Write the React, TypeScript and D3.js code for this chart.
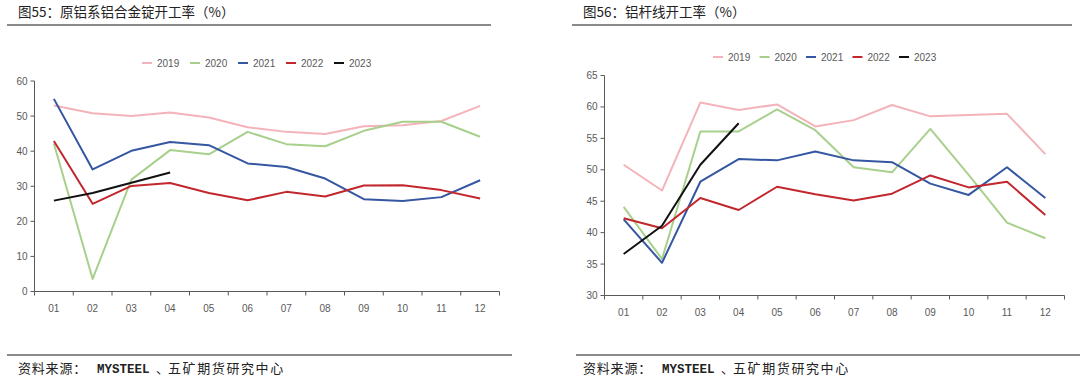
import React from "react";
import * as d3 from "d3";

const months = ["01", "02", "03", "04", "05", "06", "07", "08", "09", "10", "11", "12"];
const years = ["2019", "2020", "2021", "2022", "2023"];
const colors = ["#F4B3BA", "#A8D08D", "#3556A0", "#C1272D", "#111111"];

// 图55 原铝系铝合金锭开工率
const ingot2019 = [53, 50.8, 50, 51, 49.6, 46.8, 45.5, 44.9, 47.1, 47.4, 48.6, 52.9];
const ingot2020 = [42.2, 3.6, 31.9, 40.3, 39.1, 45.5, 42, 41.4, 45.8, 48.4, 48.4, 44.1];
const ingot2021 = [54.9, 34.8, 40.1, 42.6, 41.7, 36.5, 35.5, 32.2, 26.3, 25.8, 26.9, 31.7];
const ingot2022 = [42.9, 25, 30.1, 30.9, 28.1, 26, 28.4, 27.1, 30.2, 30.3, 28.9, 26.5];
const ingot2023 = [25.9, 28.1, 31, 33.9];
const ingotTicks = [0, 10, 20, 30, 40, 50, 60];

// 图56 铝杆线开工率
const rod2019 = [50.8, 46.7, 60.7, 59.5, 60.4, 56.9, 57.9, 60.3, 58.5, 58.7, 58.9, 52.5];
const rod2020 = [44.1, 35.8, 56.1, 56.1, 59.6, 56.3, 50.4, 49.6, 56.5, 49.2, 41.6, 39.1];
const rod2021 = [42.1, 35.2, 48.1, 51.7, 51.5, 52.9, 51.5, 51.2, 47.8, 46, 50.4, 45.5];
const rod2022 = [42.3, 40.7, 45.5, 43.6, 47.3, 46.1, 45.1, 46.2, 49.1, 47.2, 48.1, 42.8];
const rod2023 = [36.6, 41.1, 50.8, 57.4];
const rodTicks = [30, 35, 40, 45, 50, 55, 60, 65];

const sourceParts = ["资料来源：", "MYSTEEL", "、", "五矿期货研究中心"];

const axisColor = "#595959";
const textFont = "Arial, 'Liberation Sans', 'Noto Sans CJK SC', sans-serif";
const cjkFont = "'Noto Sans CJK SC', sans-serif";

type ChartProps = {
  title: string;
  series: number[][];
  ticks: number[];
  x0: number;
  x1: number;
  yTop: number;
  yBottom: number;
  legendX: number;
  legendY: number;
  legendStep: number;
  titleX: number;
  titleLine: [number, number];
  footLine: [number, number];
};

function Chart(p: ChartProps) {
  const x = d3.scaleBand<string>().domain(months).range([p.x0, p.x1]);
  const y = d3
    .scaleLinear()
    .domain([p.ticks[0], p.ticks[p.ticks.length - 1]])
    .range([p.yBottom, p.yTop]);
  const line = d3
    .line<number>()
    .x((_, i) => (x(months[i]) as number) + x.bandwidth() / 2)
    .y((v) => y(v));
  const tickXs = [...months.map((m) => x(m) as number), p.x1];
  const srcOffsets = [0, 79, 138, 150];
  return (
    <g>
      <text x={p.titleX} y={17} fontSize={13.5} fill="#222" fontFamily={cjkFont}>
        {p.title}
      </text>
      <line x1={p.titleLine[0]} x2={p.titleLine[1]} y1={25} y2={25} stroke="#8a8a8a" strokeWidth={2} />
      <line x1={p.footLine[0]} x2={p.footLine[1]} y1={355} y2={355} stroke="#8a8a8a" strokeWidth={2} />
      <text y={373} fill="#222">
        {sourceParts.map((s, i) => (
          <tspan
            key={i}
            x={p.titleX + srcOffsets[i]}
            fontSize={i === 1 ? 12.5 : 13}
            fontFamily={i === 1 ? "'Liberation Mono', 'DejaVu Sans Mono', monospace" : cjkFont}
            letterSpacing={i === 3 ? 1.6 : i === 0 ? 0.8 : 0}
            fontWeight={i === 1 ? 600 : 400}
          >
            {s}
          </tspan>
        ))}
      </text>
      {/* legend */}
      {years.map((yr, i) => (
        <g key={yr} transform={`translate(${p.legendX + i * p.legendStep},${p.legendY})`}>
          <line x1={0} x2={10} y1={0} y2={0} stroke={colors[i]} strokeWidth={2} />
          <text x={15} y={3.5} fontSize={10} fill={axisColor} fontFamily={textFont}>
            {yr}
          </text>
        </g>
      ))}
      {/* y axis */}
      <line x1={p.x0} x2={p.x0} y1={p.yTop} y2={p.yBottom} stroke={axisColor} strokeWidth={1} />
      {p.ticks.map((t) => (
        <g key={t}>
          <line x1={p.x0 - 4} x2={p.x0} y1={y(t)} y2={y(t)} stroke={axisColor} />
          <text x={p.x0 - 7} y={y(t) + 3.5} fontSize={10} fill={axisColor} textAnchor="end" fontFamily={textFont}>
            {t}
          </text>
        </g>
      ))}
      {/* x axis */}
      <line x1={p.x0} x2={p.x1} y1={p.yBottom} y2={p.yBottom} stroke={axisColor} strokeWidth={1} />
      {tickXs.map((tx, i) => (
        <line key={i} x1={tx} x2={tx} y1={p.yBottom} y2={p.yBottom + 4} stroke={axisColor} />
      ))}
      {months.map((m) => (
        <text
          key={m}
          x={(x(m) as number) + x.bandwidth() / 2}
          y={p.yBottom + 20}
          fontSize={10}
          fill={axisColor}
          textAnchor="middle"
          fontFamily={textFont}
        >
          {m}
        </text>
      ))}
      {p.series.map((s, i) => (
        <path key={i} d={line(s) || ""} fill="none" stroke={colors[i]} strokeWidth={2} strokeLinejoin="round" />
      ))}
    </g>
  );
}

export default function App() {
  return (
    <svg width={1080} height={383} style={{ position: "absolute", left: 0, top: 0, background: "#fff" }}>
      <rect width={1080} height={383} fill="#fff" />
      <Chart
        title="图55：原铝系铝合金锭开工率（%）"
        series={[ingot2019, ingot2020, ingot2021, ingot2022, ingot2023]}
        ticks={ingotTicks}
        x0={34.5}
        x1={499.5}
        yTop={81}
        yBottom={291.5}
        legendX={142}
        legendY={63}
        legendStep={48}
        titleX={18}
        titleLine={[7, 491]}
        footLine={[7, 512]}
      />
      <Chart
        title="图56：铝杆线开工率（%）"
        series={[rod2019, rod2020, rod2021, rod2022, rod2023]}
        ticks={rodTicks}
        x0={604.5}
        x1={1064.5}
        yTop={75.5}
        yBottom={295.5}
        legendX={713}
        legendY={57}
        legendStep={46.5}
        titleX={583}
        titleLine={[572, 1072]}
        footLine={[576, 1080]}
      />
    </svg>
  );
}
